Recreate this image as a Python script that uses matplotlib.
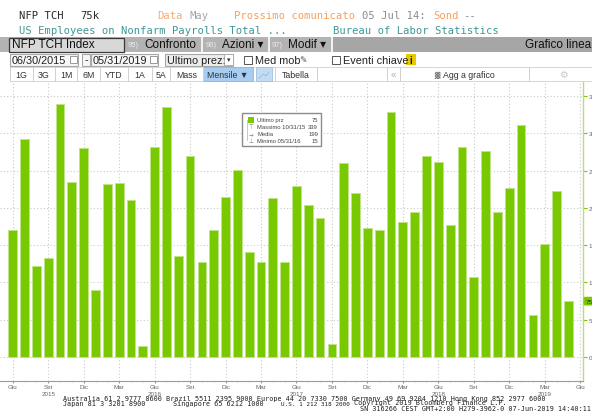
import numpy as np
import matplotlib
matplotlib.use("Agg")
import matplotlib.pyplot as plt
import matplotlib.transforms as mtransforms
from matplotlib.patches import Rectangle

# NFP TCH Index, monthly change in thousands, 06/2015 -> 05/2019
nfp = [170, 292, 122, 133, 339, 235, 280, 90, 232, 233, 210, 15,
       281, 335, 135, 270, 128, 170, 214, 251, 141, 127, 213, 128,
       229, 204, 187, 18, 260, 220, 173, 171, 328, 181, 195, 269,
       261, 177, 281, 108, 276, 195, 226, 311, 56, 152, 223, 75]

# x labels every 3 months (Giu 2015 ... Giu 2019)
month_labels = ["Giu", "Set", "Dic", "Mar"] * 4 + ["Giu"]
year_labels = ["", "2015", "", "", "2016", "", "", "", "2017",
               "", "", "", "2018", "", "", "2019", ""]
y_ticks = [0, 50, 100, 150, 200, 250, 300, 350]

legend_rows = [("Ultimo prz", "75"), ("Massimo 10/31/15", "339"),
               ("Media", "199"), ("Minimo 05/31/16", "15")]

W, H = 592, 414
GREEN = "#79c900"
MONO = "DejaVu Sans Mono"
SANS = ["Liberation Sans", "DejaVu Sans"]


def box(x0, y0, x1, y1):
    # pixel box (top-left origin) -> figure fraction
    return [x0 / W, 1 - y1 / H, (x1 - x0) / W, (y1 - y0) / H]


fig = plt.figure(figsize=(W / 100, H / 100), dpi=100)
fig.patch.set_facecolor("white")

# ---------------- chart ----------------
ax = fig.add_axes(box(0, 82, 583, 382))
x = np.arange(len(nfp))
ax.bar(x, nfp, width=0.74, color=GREEN, edgecolor="#bfe48a", linewidth=0.7, zorder=3)
ax.set_xlim(-1.08, 48.24)
ax.set_ylim(-32, 370)

ax.yaxis.tick_right()
ax.set_yticks(y_ticks)
ax.set_yticklabels([str(v) for v in y_ticks], fontfamily=SANS)
ax.tick_params(axis="y", colors=GREEN, length=3, width=0.8, pad=1,
               labelsize=4.5, labelcolor="#666666")

ticks = list(range(0, len(nfp) + 1, 3))
ax.set_xticks(ticks)
ax.set_xticklabels(month_labels, fontfamily=SANS)
ax.set_xticks(x, minor=True)
ax.tick_params(axis="x", which="major", length=1.5, color="#999999", pad=0.5,
               labelsize=4.5, labelcolor="#666666")
ax.tick_params(axis="x", which="minor", length=1.0, color="#bbbbbb")

# year under the month label
ytr = mtransforms.blended_transform_factory(ax.transData, fig.transFigure)
for t, yy in zip(ticks, year_labels):
    if yy:
        ax.text(t, 1 - 394.5 / H, yy, transform=ytr, ha="center", va="center",
                fontsize=4.5, family=SANS, color="#666666", clip_on=False)

ax.grid(True, which="major", color="#c9c9c9", linestyle=(0, (1, 2)), linewidth=0.8, zorder=0)
ax.set_axisbelow(True)
for s in ["left", "top"]:
    ax.spines[s].set_visible(False)
ax.spines["bottom"].set_color("#9a9a9a")
ax.spines["bottom"].set_linewidth(0.8)
ax.spines["right"].set_color("#b3e07c")
ax.spines["right"].set_linewidth(1.0)

# last value marker on the axis
tr = mtransforms.blended_transform_factory(ax.transAxes, ax.transData)
ax.text(1.004, nfp[-1], legend_rows[0][1], transform=tr, fontsize=4.5, family=SANS,
        va="center", ha="left", color="#1d3a00", clip_on=False,
        bbox=dict(boxstyle="round,pad=0.3", fc=GREEN, ec="none"))

# ---------------- overlay (header, legend, footer) ----------------
ov = fig.add_axes([0, 0, 1, 1], zorder=10)
ov.set_xlim(0, W)
ov.set_ylim(H, 0)
ov.axis("off")


def rect(x0, y0, x1, y1, fc, ec="none", lw=0.8):
    ov.add_patch(Rectangle((x0, y0), x1 - x0, y1 - y0, fc=fc, ec=ec, lw=lw))


def txt(xp, yp, s, **kw):
    kw.setdefault("va", "center")
    ov.text(xp, yp, s, **kw)


# title lines
head = dict(family=MONO, fontsize=7.6)
txt(19, 16, "NFP TCH", color="#2a2a2a", **head)
txt(80, 16, "75k", color="#2a2a2a", **head)
txt(157, 16, "Data", color="#f7ad70", **head)
txt(189, 16, "May", color="#a5a5a5", **head)
txt(234, 16, "Prossimo comunicato", color="#f5a15c", **head)
txt(362, 16, "05 Jul 14:", color="#8c8c8c", **head)
txt(433, 16, "Sond", color="#f5a15c", **head)
txt(463, 16, "--", color="#8c8c8c", **head)
txt(19, 31, "US Employees on Nonfarm Payrolls Total ...", color="#3f9797", **head)
txt(333, 31, "Bureau of Labor Statistics", color="#3f9797", **head)

# toolbar row 1
rect(0, 38, 592, 53, "#b3b3b3")
rect(333, 38, 592, 53, "#a6a6a6")
rect(9, 38.5, 124, 53, "#d8d8d8", ec="#3a3a3a", lw=0.9)
txt(12, 45.5, "NFP TCH Index", family=SANS, fontsize=8.5, color="#111111")
for xs in [202, 269, 332]:
    ov.plot([xs, xs], [38, 53], color="white", lw=1.2)
for xs, num, lab in [(128, "95)", "Confronto"), (206, "96)", "Azioni \u25be"), (272, "97)", "Modif \u25be")]:
    txt(xs, 45.5, num, family=SANS, fontsize=5.5, color="#ececec")
    txt(xs + 16, 45.5, lab, family=SANS, fontsize=8.5, color="#111111")
txt(591, 45.5, "Grafico linea", family=SANS, fontsize=8.5, color="#111111", ha="right")

# toolbar row 2
row2 = dict(family=SANS, fontsize=7.8, color="#222222")
rect(10, 54.5, 78, 66.5, "#f7f7f7", ec="#a8a8a8")
txt(12, 60.5, "06/30/2015", **row2)
rect(70, 57, 77, 64, "white", ec="#888888", lw=0.6)
rect(82, 54.5, 90, 66.5, "#f7f7f7", ec="#a8a8a8")
txt(86, 60.5, "-", ha="center", **row2)
rect(91, 54.5, 158, 66.5, "#f7f7f7", ec="#a8a8a8")
txt(93, 60.5, "05/31/2019", **row2)
rect(150, 57, 157, 64, "white", ec="#888888", lw=0.6)
rect(165, 54.5, 233, 66.5, "#ececec", ec="#a8a8a8")
txt(167, 60.5, "Ultimo prez:", **row2)
rect(224, 55, 233, 66, "white", ec="#a8a8a8", lw=0.6)
txt(228.5, 60.5, "\u25be", ha="center", family="DejaVu Sans", fontsize=5, color="#333333")
rect(244, 56.5, 252, 64.5, "white", ec="#555555", lw=0.7)
txt(255, 60.5, "Med mob", **row2)
txt(299, 60.5, "\u270e", family="DejaVu Sans", fontsize=6.5, color="#555555")
rect(332, 56.5, 340, 64.5, "white", ec="#555555", lw=0.7)
txt(343, 60.5, "Eventi chiave", **row2)
rect(406, 55, 416, 66, "#e8c800")
txt(411, 60.5, "i", ha="center", family=SANS, fontsize=7, weight="bold", color="#222222")

# toolbar row 3
row3 = dict(family=SANS, fontsize=6.3, color="#333333", ha="center")
rect(10, 68, 592, 81.5, "white", ec="#d0d0d0", lw=0.6)
edges = [10, 33, 55, 77, 100, 128, 152, 170, 203]
buttons = ["1G", "3G", "1M", "6M", "YTD", "1A", "5A", "Mass"]
for xe in edges:
    ov.plot([xe, xe], [68, 81.5], color="#d0d0d0", lw=0.7)
for a, b, lab in zip(edges[:-1], edges[1:], buttons):
    txt((a + b) / 2, 75, lab, **row3)
rect(203, 68, 253, 81.5, "#a8cdf3", ec="#8fb5dd", lw=0.6)
txt(228, 75, "Mensile \u25bc", **row3)
rect(256, 68, 272, 81.5, "#c4dcf2", ec="#9fc0e0", lw=0.6)
ov.plot([259, 263, 266, 269], [79, 75, 77, 73], color="#9abadc", lw=0.6)
for xe in [275, 317, 387, 400, 529]:
    ov.plot([xe, xe], [68, 81.5], color="#d0d0d0", lw=0.7)
txt(296, 75, "Tabella", **row3)
txt(393.5, 75, "\u00ab", family=SANS, fontsize=7, color="#b0b0b0", ha="center")
txt(437, 75, "\u2593", family="DejaVu Sans", fontsize=5, color="#777777", ha="center")
txt(469, 75, "Agg a grafico", **row3)
txt(563, 75, "\u2699", family="DejaVu Sans", fontsize=7, color="#c8c8c8", ha="center")

# legend box
rect(242, 114, 321, 147, "white", ec="#8c8c8c", lw=1.0)
ov.plot([246.5, 246.5], [121, 141], color="#b0b0b0", lw=0.5)
rect(248, 117.5, 254, 123.5, GREEN)
icons = ["", "\u22a4", "\u2192", "\u22a5"]
for i, (lab, val) in enumerate(legend_rows):
    yy = 120.5 + i * 7
    if icons[i]:
        txt(250.5, yy, icons[i], ha="center", family="DejaVu Sans", fontsize=4, color="#777777")
    txt(257, yy, lab, family=SANS, fontsize=4.2, color="#444444")
    txt(318, yy, val, family=SANS, fontsize=4.2, color="#444444", ha="right")

# footer
foot = dict(family=MONO, fontsize=4.85, color="#1e1e1e")
txt(63, 399.5, "Australia 61 2 9777 8600 Brazil 5511 2395 9000 Europe 44 20 7330 7500 "
               "Germany 49 69 9204 1210 Hong Kong 852 2977 6000", **foot)
txt(63, 404.5, "Japan 81 3 3201 8900", **foot)
txt(173, 404.5, "Singapore 65 6212 1000", **foot)
txt(281, 404.5, "U.S. 1 212 318 2000", family=MONO, fontsize=4.3, color="#1e1e1e")
txt(354, 403.5, "Copyright 2019 Bloomberg Finance L.P.", **foot)
txt(591, 409.5, "SN 316266 CEST GMT+2:00 H279-3962-0 07-Jun-2019 14:40:11", ha="right", **foot)

fig.savefig("out.png", dpi=100)
